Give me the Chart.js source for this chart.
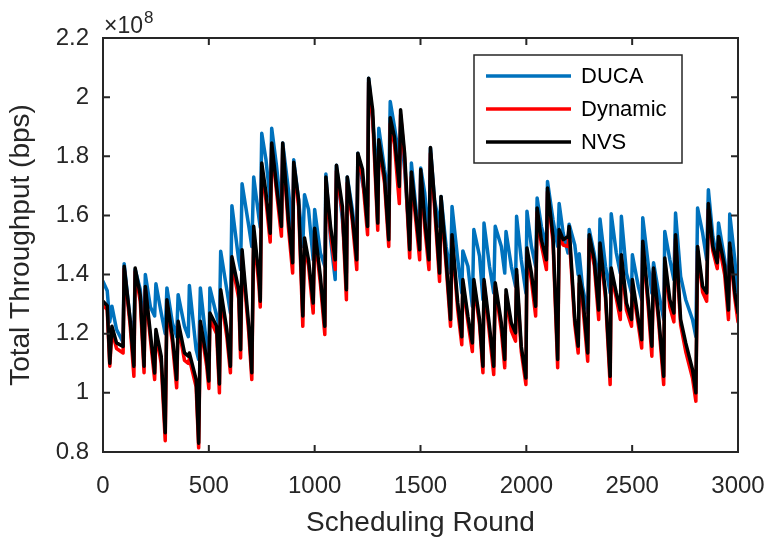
<!DOCTYPE html>
<html>
<head>
<meta charset="utf-8">
<script src="https://cdn.jsdelivr.net/npm/chart.js@4.4.1/dist/chart.umd.min.js"></script>
<style>
  html, body { margin: 0; padding: 0; background: #fff; }
  #wrap { width: 771px; height: 547px; }
</style>
</head>
<body>
<div id="wrap"><canvas id="chart" width="771" height="547"></canvas></div>
<script>
// scheduling rounds (shared x positions for all three curves)
const rounds = [
  0, 20, 32, 42, 64, 95, 100, 128, 146, 152, 176, 194, 200, 224, 244, 250, 275, 294, 302, 328,
  348, 355, 385, 403, 408, 440, 452, 460, 490, 500, 505, 537, 550, 556, 585, 602, 609, 641, 650, 657,
  689, 703, 712, 737, 743, 750, 770, 790, 797, 820, 843, 849, 876, 896, 901, 924, 944, 952, 971, 993,
  1000, 1027, 1048, 1053, 1075, 1097, 1103, 1131, 1150, 1154, 1178, 1199, 1204, 1226, 1250, 1255, 1274, 1298, 1303, 1330,
  1350, 1357, 1377, 1400, 1406, 1425, 1449, 1457, 1481, 1496, 1501, 1520, 1540, 1547, 1566, 1590, 1597, 1621, 1642, 1649,
  1676, 1695, 1700, 1724, 1745, 1752, 1779, 1795, 1800, 1826, 1846, 1853, 1882, 1898, 1904, 1929, 1949, 1954, 1976, 1998,
  2003, 2024, 2044, 2051, 2071, 2095, 2100, 2126, 2148, 2155, 2174, 2197, 2202, 2229, 2245, 2250, 2265, 2290, 2297, 2321,
  2342, 2348, 2374, 2396, 2401, 2425, 2444, 2449, 2473, 2497, 2501, 2529, 2545, 2550, 2577, 2593, 2601, 2625, 2649, 2654,
  2678, 2697, 2705, 2729, 2753, 2785, 2801, 2809, 2833, 2852, 2860, 2881, 2902, 2908, 2937, 2955, 2961, 2985, 3000
];

// throughput in units of 10^8 bps
const duca = [
  1.377, 1.345, 1.24, 1.293, 1.214, 1.17, 1.437, 1.248, 1.20, 1.417, 1.35, 1.19, 1.40, 1.29, 1.26, 1.369, 1.27, 1.20, 1.355, 1.236,
  1.19, 1.332, 1.225, 1.19, 1.363, 1.146, 1.113, 1.355, 1.158, 1.10, 1.355, 1.26, 1.225, 1.479, 1.349, 1.27, 1.633, 1.45, 1.417, 1.707,
  1.563, 1.495, 1.73, 1.59, 1.56, 1.878, 1.788, 1.65, 1.895, 1.766, 1.608, 1.845, 1.687, 1.54, 1.788, 1.653, 1.495, 1.67, 1.62, 1.45,
  1.62, 1.473, 1.428, 1.74, 1.52, 1.383, 1.77, 1.585, 1.405, 1.73, 1.62, 1.484, 1.81, 1.71, 1.63, 2.064, 1.923, 1.698, 1.895, 1.755,
  1.676, 1.985, 1.90, 1.788, 1.90, 1.755, 1.507, 1.777, 1.608, 1.53, 1.76, 1.676, 1.507, 1.828, 1.653, 1.563, 1.664, 1.495, 1.405, 1.63,
  1.45, 1.338, 1.48, 1.428, 1.293, 1.552, 1.462, 1.315, 1.574, 1.428, 1.338, 1.563, 1.495, 1.405, 1.546, 1.428, 1.36, 1.597, 1.45, 1.338,
  1.614, 1.495, 1.428, 1.659, 1.563, 1.495, 1.715, 1.585, 1.495, 1.64, 1.54, 1.473, 1.57, 1.50, 1.40, 1.47, 1.36, 1.27, 1.552, 1.47,
  1.36, 1.588, 1.428, 1.338, 1.606, 1.473, 1.405, 1.597, 1.405, 1.338, 1.467, 1.36, 1.315, 1.592, 1.428, 1.338, 1.44, 1.338, 1.248, 1.546,
  1.45, 1.383, 1.608, 1.394, 1.315, 1.248, 1.19, 1.625, 1.54, 1.45, 1.687, 1.529, 1.45, 1.574, 1.45, 1.338, 1.605, 1.45, 1.315
];

const dynamic = [
  1.30, 1.28, 1.09, 1.21, 1.15, 1.135, 1.42, 1.23, 1.056, 1.41, 1.31, 1.068, 1.35, 1.18, 1.045, 1.20, 1.10, 0.838, 1.30, 1.17,
  1.017, 1.23, 1.11, 1.10, 1.115, 1.02, 0.814, 1.23, 1.09, 1.015, 1.25, 1.20, 1.0, 1.33, 1.19, 1.068, 1.44, 1.32, 1.118, 1.46,
  1.20, 1.045, 1.54, 1.36, 1.29, 1.76, 1.65, 1.51, 1.83, 1.68, 1.53, 1.83, 1.56, 1.405, 1.77, 1.63, 1.225, 1.50, 1.43, 1.27,
  1.54, 1.37, 1.197, 1.71, 1.54, 1.417, 1.75, 1.61, 1.315, 1.71, 1.58, 1.417, 1.80, 1.73, 1.535, 2.05, 1.93, 1.55, 1.84, 1.71,
  1.495, 1.91, 1.84, 1.64, 1.94, 1.79, 1.456, 1.73, 1.56, 1.45, 1.74, 1.56, 1.417, 1.81, 1.63, 1.377, 1.64, 1.43, 1.225, 1.52,
  1.28, 1.163, 1.37, 1.24, 1.14, 1.37, 1.23, 1.068, 1.37, 1.20, 1.062, 1.36, 1.21, 1.085, 1.33, 1.21, 1.175, 1.40, 1.14, 1.028,
  1.47, 1.38, 1.26, 1.61, 1.50, 1.417, 1.68, 1.51, 1.085, 1.53, 1.50, 1.495, 1.54, 1.23, 1.135, 1.37, 1.31, 1.107, 1.52, 1.43,
  1.248, 1.49, 1.32, 1.028, 1.40, 1.32, 1.248, 1.45, 1.28, 1.225, 1.36, 1.23, 1.152, 1.50, 1.28, 1.124, 1.41, 1.24, 1.028, 1.44,
  1.29, 1.24, 1.52, 1.23, 1.14, 1.05, 0.972, 1.48, 1.34, 1.31, 1.62, 1.48, 1.42, 1.51, 1.40, 1.248, 1.49, 1.32, 1.24
];

const nvs = [
  1.31, 1.295, 1.10, 1.225, 1.169, 1.157, 1.428, 1.248, 1.09, 1.422, 1.33, 1.09, 1.36, 1.20, 1.067, 1.214, 1.124, 0.865, 1.315, 1.19,
  1.045, 1.242, 1.135, 1.124, 1.135, 1.045, 0.83, 1.242, 1.113, 1.04, 1.27, 1.225, 1.03, 1.349, 1.214, 1.09, 1.46, 1.349, 1.146, 1.484,
  1.225, 1.068, 1.563, 1.39, 1.31, 1.777, 1.676, 1.54, 1.845, 1.698, 1.563, 1.845, 1.585, 1.44, 1.78, 1.653, 1.26, 1.524, 1.45, 1.304,
  1.557, 1.394, 1.225, 1.73, 1.563, 1.45, 1.77, 1.63, 1.349, 1.73, 1.597, 1.45, 1.81, 1.755, 1.563, 2.064, 1.957, 1.574, 1.856, 1.73,
  1.518, 1.93, 1.865, 1.698, 1.957, 1.81, 1.484, 1.747, 1.585, 1.484, 1.755, 1.585, 1.45, 1.83, 1.653, 1.405, 1.664, 1.45, 1.248, 1.535,
  1.304, 1.19, 1.383, 1.259, 1.169, 1.383, 1.248, 1.09, 1.383, 1.225, 1.09, 1.372, 1.236, 1.113, 1.349, 1.236, 1.203, 1.417, 1.158, 1.05,
  1.49, 1.405, 1.293, 1.625, 1.518, 1.45, 1.693, 1.529, 1.113, 1.552, 1.518, 1.529, 1.563, 1.248, 1.158, 1.394, 1.338, 1.135, 1.535, 1.45,
  1.28, 1.507, 1.338, 1.056, 1.422, 1.338, 1.28, 1.467, 1.304, 1.248, 1.383, 1.248, 1.18, 1.513, 1.304, 1.158, 1.422, 1.259, 1.056, 1.456,
  1.315, 1.27, 1.535, 1.248, 1.169, 1.079, 1.0, 1.495, 1.36, 1.338, 1.64, 1.495, 1.44, 1.529, 1.428, 1.28, 1.507, 1.338, 1.27
];

const xTickValues = [0, 500, 1000, 1500, 2000, 2500, 3000];
const yTickValues = [0.8, 1.0, 1.2, 1.4, 1.6, 1.8, 2.0, 2.2];
const seriesNames = ['DUCA', 'Dynamic', 'NVS'];
const seriesColors = ['#0072BD', '#FF0000', '#000000'];

const axisColor = '#262626';
const fontFamily = '"Liberation Sans", Arial, Helvetica, sans-serif';
Chart.defaults.font.family = fontFamily;

function toPoints(values) {
  return rounds.map((r, i) => ({ x: r, y: values[i] }));
}

// MATLAB style box with inward ticks, legend and exponent label
const matlabAxes = {
  id: 'matlabAxes',
  afterDraw(chart) {
    const ctx = chart.ctx;
    const area = chart.chartArea;
    const xs = chart.scales.x;
    const ys = chart.scales.y;
    const tickLen = 7;

    ctx.save();
    ctx.strokeStyle = axisColor;
    ctx.lineWidth = 2;
    ctx.strokeRect(area.left, area.top, area.right - area.left, area.bottom - area.top);

    ctx.beginPath();
    xTickValues.forEach(v => {
      const px = xs.getPixelForValue(v);
      ctx.moveTo(px, area.bottom); ctx.lineTo(px, area.bottom - tickLen);
      ctx.moveTo(px, area.top); ctx.lineTo(px, area.top + tickLen);
    });
    yTickValues.forEach(v => {
      const py = ys.getPixelForValue(v);
      ctx.moveTo(area.left, py); ctx.lineTo(area.left + tickLen, py);
      ctx.moveTo(area.right, py); ctx.lineTo(area.right - tickLen, py);
    });
    ctx.stroke();

    // exponent
    ctx.fillStyle = axisColor;
    ctx.textBaseline = 'alphabetic';
    ctx.textAlign = 'left';
    ctx.font = '23px ' + fontFamily;
    ctx.fillText('\u00d710', area.left + 1, area.top - 5);
    const w = ctx.measureText('\u00d710').width;
    ctx.font = '17px ' + fontFamily;
    ctx.fillText('8', area.left + 1 + w + 1, area.top - 15);

    // legend
    const box = { left: area.right - 264, top: area.top + 17, width: 208, height: 108 };
    ctx.fillStyle = '#fff';
    ctx.fillRect(box.left, box.top, box.width, box.height);
    ctx.lineWidth = 1.5;
    ctx.strokeStyle = axisColor;
    ctx.strokeRect(box.left, box.top, box.width, box.height);
    ctx.font = '22px ' + fontFamily;
    ctx.textBaseline = 'middle';
    seriesNames.forEach((name, i) => {
      const y = box.top + 21 + i * 33;
      ctx.strokeStyle = seriesColors[i];
      ctx.lineWidth = 3.5;
      ctx.beginPath();
      ctx.moveTo(box.left + 12, y);
      ctx.lineTo(box.left + 97, y);
      ctx.stroke();
      ctx.fillStyle = '#000';
      ctx.fillText(name, box.left + 107, y + 1);
    });
    ctx.restore();
  }
};

new Chart(document.getElementById('chart'), {
  type: 'line',
  data: {
    datasets: seriesNames.map((name, i) => ({
      label: name,
      data: toPoints([duca, dynamic, nvs][i]),
      borderColor: seriesColors[i],
      backgroundColor: seriesColors[i],
      order: 3 - i
    }))
  },
  options: {
    responsive: false,
    animation: false,
    events: [],
    layout: { padding: { top: 38, right: 33, left: 0, bottom: 0 } },
    elements: {
      point: { radius: 0 },
      line: { borderWidth: 3.5, tension: 0, borderJoinStyle: 'round', borderCapStyle: 'round' }
    },
    plugins: {
      legend: { display: false },
      tooltip: { enabled: false }
    },
    scales: {
      x: {
        type: 'linear',
        min: 0,
        max: 3000,
        grid: { display: false, drawTicks: false },
        border: { display: false },
        afterBuildTicks: s => { s.ticks = xTickValues.map(v => ({ value: v })); },
        afterFit: s => { s.height = 95; s.paddingLeft = 0; s.paddingRight = 0; },
        ticks: {
          color: axisColor,
          font: { size: 24 },
          padding: 20,
          maxRotation: 0,
          autoSkip: false,
          callback: v => String(v)
        },
        title: {
          display: true,
          text: 'Scheduling Round',
          color: axisColor,
          font: { size: 28 },
          padding: { top: 0, bottom: 7 }
        }
      },
      y: {
        type: 'linear',
        min: 0.8,
        max: 2.2,
        grid: { display: false, drawTicks: false },
        border: { display: false },
        afterBuildTicks: s => { s.ticks = yTickValues.map(v => ({ value: v })); },
        afterFit: s => { s.width = 103; s.paddingTop = 0; s.paddingBottom = 0; },
        ticks: {
          color: axisColor,
          font: { size: 24 },
          padding: 14,
          callback: v => String(Number(v.toFixed(1)))
        },
        title: {
          display: true,
          text: 'Total Throughput (bps)',
          color: axisColor,
          font: { size: 28 },
          padding: { top: 4, bottom: 0 }
        }
      }
    }
  },
  plugins: [matlabAxes]
});
</script>
</body>
</html>
